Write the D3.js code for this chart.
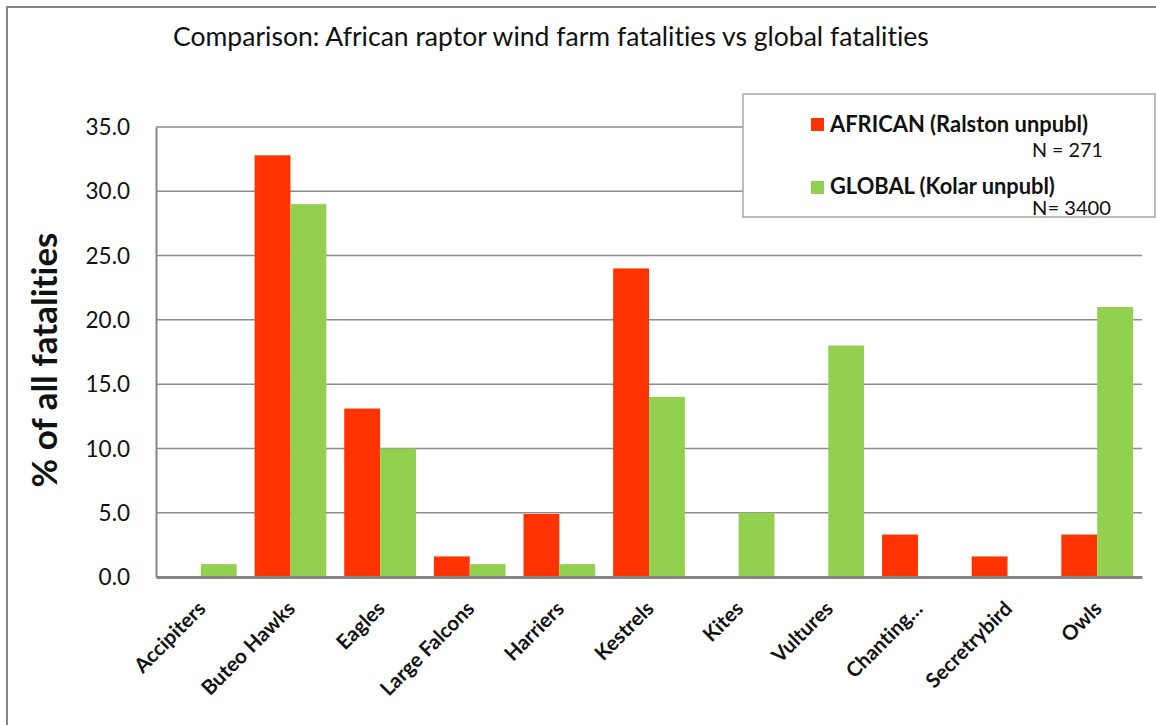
<!DOCTYPE html>
<html><head><meta charset="utf-8">
<script src="https://cdn.jsdelivr.net/npm/d3@7"></script>
<style>
html,body{margin:0;padding:0;background:#fff;}
svg{display:block;font-family:Lato,"Open Sans",sans-serif;font-variant-ligatures:none;}
</style></head>
<body>
<svg id="chart" width="1156" height="725"></svg>
<script>
const categories = ["Accipiters","Buteo Hawks","Eagles","Large Falcons","Harriers","Kestrels","Kites","Vultures","Chanting…","Secretrybird","Owls"];
const african = [0, 32.8, 13.1, 1.6, 4.9, 24.0, 0, 0, 3.3, 1.6, 3.3];
const global = [1.0, 29.0, 10.0, 1.0, 1.0, 14.0, 5.0, 18.0, 0, 0, 21.0];
const seriesNames = ["AFRICAN (Ralston unpubl)", "GLOBAL (Kolar unpubl)"];
const seriesN = ["N = 271", "N= 3400"];
const seriesColors = ["#FF3300", "#92D050"];
const yTicks = [0, 5, 10, 15, 20, 25, 30, 35];
const title = "Comparison: African raptor wind farm fatalities vs global fatalities";
const yTitle = "% of all fatalities";

const svg = d3.select("#chart");
const L = 156, R = 1142, T = 127, B = 577;

function fit(sel, target){
  const w = sel.node().getComputedTextLength();
  const fs = parseFloat(sel.attr("font-size"));
  sel.attr("font-size", (fs*target/w).toFixed(2));
}

// outer frame
svg.append("rect").attr("x",7).attr("y",7).attr("width",1160).attr("height",740)
  .attr("fill","none").attr("stroke","#868686").attr("stroke-width",2);

const x0 = d3.scaleBand().domain(categories).range([L,R]).paddingInner(0.2).paddingOuter(0.1);
const x1 = d3.scaleBand().domain([0,1]).range([0,x0.bandwidth()]);
const y = d3.scaleLinear().domain([0,35]).range([B,T]);

// gridlines
svg.append("g").selectAll("line").data(yTicks.filter(d=>d>0)).join("line")
  .attr("x1",L).attr("x2",R).attr("y1",d=>y(d)).attr("y2",d=>y(d))
  .attr("stroke","#8c8c8c").attr("stroke-width",1.5);

// y axis
const yAxis = svg.append("g").attr("transform",`translate(${L},0)`)
  .call(d3.axisLeft(y).tickValues(yTicks).tickFormat(d3.format(".1f")).tickSize(0).tickPadding(26));
yAxis.select(".domain").attr("stroke","#868686").attr("stroke-width",2);
yAxis.selectAll("text").attr("font-size",22.5).attr("fill","#111").attr("font-family","Lato").attr("dy","0.34em");

// bars
const data = categories.map((c,i)=>({c, v:[african[i], global[i]]}));
const groups = svg.append("g").selectAll("g").data(data).join("g")
  .attr("transform",d=>`translate(${x0(d.c)},0)`);
groups.selectAll("rect").data(d=>d.v.map((v,k)=>({v,k}))).join("rect")
  .filter(d=>d.v>0)
  .attr("x",d=>x1(d.k)).attr("width",x1.bandwidth())
  .attr("y",d=>y(d.v)).attr("height",d=>y(0)-y(d.v))
  .attr("fill",d=>seriesColors[d.k]);

// x axis
const xAxis = svg.append("g").attr("transform",`translate(0,${B})`)
  .call(d3.axisBottom(x0).tickSize(0).tickPadding(0));
xAxis.select(".domain").attr("stroke","#868686").attr("stroke-width",3);
xAxis.selectAll("text")
  .attr("font-size",20.5).attr("font-weight","bold").attr("fill","#111").attr("font-family","Lato")
  .attr("text-anchor","end").attr("dy",0).attr("y",0)
  .attr("transform","translate(6,33) rotate(-45)");

// title
const t = svg.append("text").attr("x",173).attr("y",46).attr("font-size",22).attr("fill","#111").text(title);
fit(t, 756);

// y title
const yt = svg.append("text").attr("transform","translate(57,360) rotate(-90)").attr("text-anchor","middle")
  .attr("font-size",30).attr("font-weight","bold").attr("fill","#111").text(yTitle);
fit(yt, 255);

// legend
svg.append("rect").attr("x",743).attr("y",94).attr("width",412).attr("height",123)
  .attr("fill","#fff").attr("stroke","#a6a6a6").attr("stroke-width",1.5);
const legY = [118, 181];
const legBase = [131.5, 194];
const nBase = [156.5, 215];
const nameW = [258, 225];
const nW = [71, 79];
seriesNames.forEach((s,i)=>{
  svg.append("rect").attr("x",811).attr("y",legY[i]).attr("width",13).attr("height",13).attr("fill",seriesColors[i]);
  const a = svg.append("text").attr("x",830).attr("y",legBase[i]).attr("font-size",19).attr("font-weight","bold").attr("fill","#111").text(s);
  fit(a, nameW[i]);
  const b = svg.append("text").attr("x",1032).attr("y",nBase[i]).attr("font-size",19).attr("fill","#111").text(seriesN[i]);
  fit(b, nW[i]);
});
</script>
</body></html>
